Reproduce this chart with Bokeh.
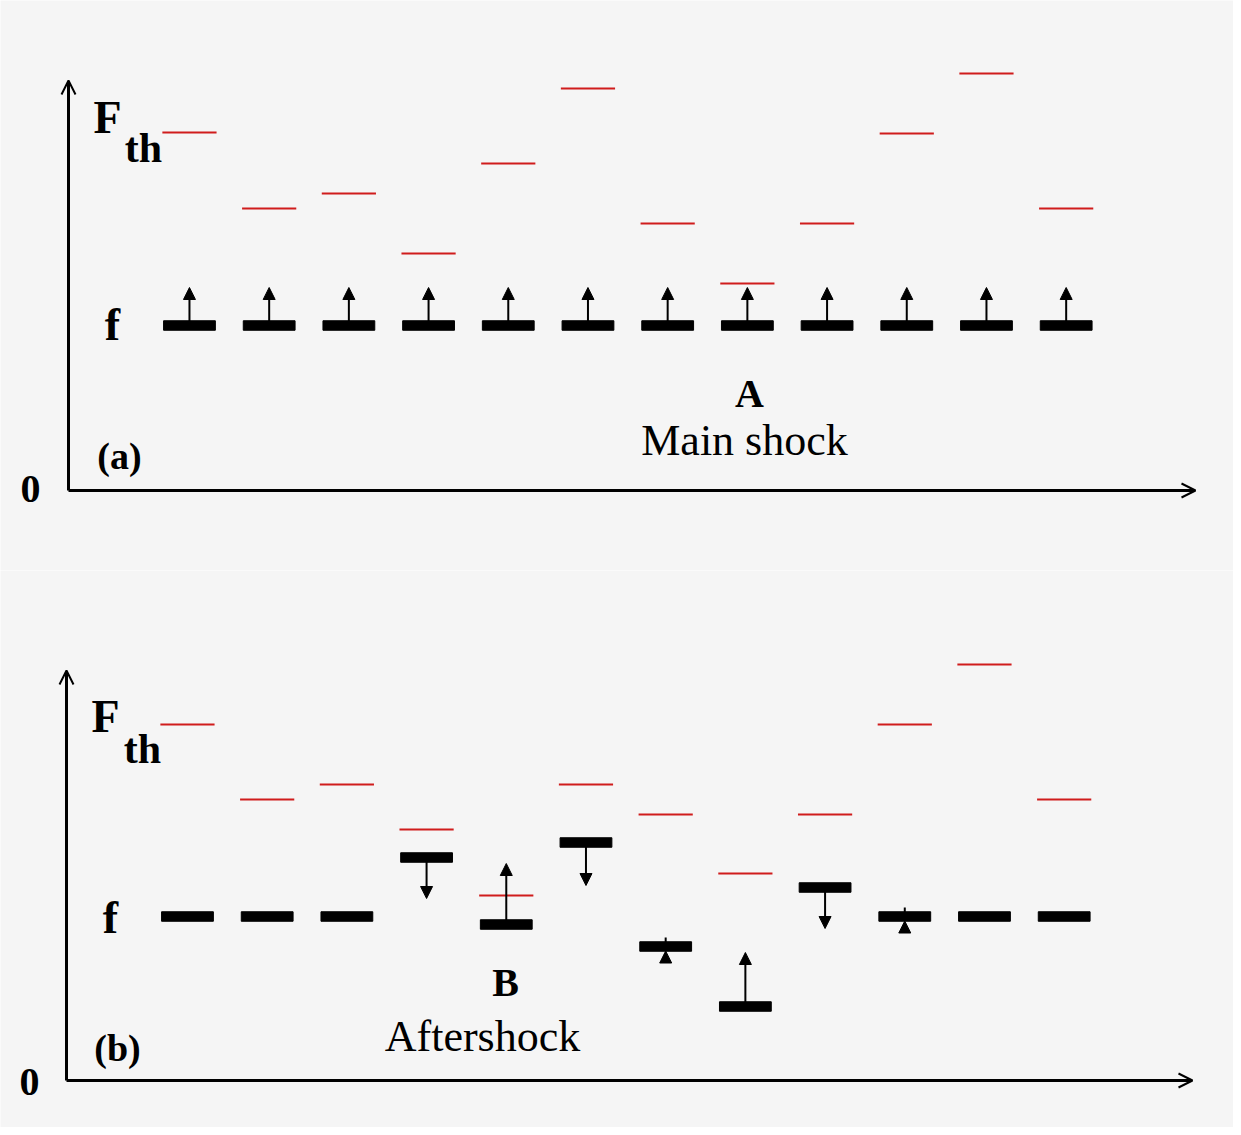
from bokeh.plotting import figure
from bokeh.layouts import column
from bokeh.models import Range1d, ColumnDataSource, Arrow, NormalHead, OpenHead
from bokeh.embed import file_html
from bokeh.resources import INLINE
from bokeh.core.properties import value

# ---------------- data ----------------
blocks = [1, 2, 3, 4, 5, 6, 7, 8, 9, 10, 11, 12]

# panel (a): main shock
fth_a = [35.8, 28.2, 29.7, 23.7, 32.7, 40.2, 26.7, 20.7, 26.7, 35.7, 41.7, 28.2]
f_a = [16.5, 16.5, 16.5, 16.5, 16.5, 16.5, 16.5, 16.5, 16.5, 16.5, 16.5, 16.5]
arrow_from_a = [16.95, 16.95, 16.95, 16.95, 16.95, 16.95, 16.95, 16.95, 16.95, 16.95, 16.95, 16.95]
arrow_to_a = [20.3, 20.3, 20.3, 20.3, 20.3, 20.3, 20.3, 20.3, 20.3, 20.3, 20.3, 20.3]

# panel (b): aftershock
fth_b = [35.6, 28.1, 29.6, 25.1, 18.5, 29.6, 26.6, 20.7, 26.6, 35.6, 41.6, 28.1]
f_b = [16.4, 16.4, 16.4, 22.3, 15.6, 23.8, 13.4, 7.4, 19.3, 16.4, 16.4, 16.4]
arrow_from_b = [None, None, None, 21.85, 16.05, 23.35, 12.2, 7.85, 18.85, 15.0, None, None]
arrow_to_b = [None, None, None, 18.2, 21.7, 19.5, 12.95, 12.8, 15.2, 15.95, None, None]
tick_top_b = [None, None, None, None, None, None, 14.3, None, None, 17.3, None, None]

# ---------------- layout helpers ----------------
W = 1233
SX = 79.7   # px per block
SY = 10.0   # px per y unit
BG = "#f5f5f5"
RED = "#d01c1c"
SERIF = value("Liberation Serif")
LEFT_PX = 0


def make_panel(height, x0, base_py, top_py, fth, f, afrom, ato, ticks, labels, xaxis_end_px, axis_px):
    x1 = x0 + W / SX
    y1 = (base_py - top_py) / SY
    y0 = y1 - height / SY
    p = figure(width=W, height=height, output_backend="svg", toolbar_location=None,
               x_range=Range1d(x0, x1), y_range=Range1d(y0, y1),
               min_border=0, min_border_left=0, min_border_right=0,
               min_border_top=0, min_border_bottom=0)
    p.axis.visible = False
    p.grid.visible = False
    p.outline_line_color = None
    p.background_fill_color = BG
    p.border_fill_color = BG

    def tx(px):
        return x0 + (px - LEFT_PX) / SX

    def ty(py):
        return (base_py - py) / SY

    ax = tx(axis_px)
    # axes with arrow heads
    p.add_layout(Arrow(end=OpenHead(size=14, line_width=2, line_color="black"),
                       x_start=ax, y_start=0, x_end=ax, y_end=41,
                       line_width=3, line_color="black"))
    p.add_layout(Arrow(end=OpenHead(size=14, line_width=2, line_color="black"),
                       x_start=ax, y_start=0, x_end=tx(xaxis_end_px), y_end=0,
                       line_width=3, line_color="black"))

    # thresholds (red)
    p.segment(x0=[b - 0.34 for b in blocks], x1=[b + 0.34 for b in blocks],
              y0=fth, y1=fth, line_color=RED, line_width=2)

    # stress bars (black)
    p.rect(x=blocks, y=f, width=0.65, height=0.95, fill_color="black", line_color="black")

    # arrows
    xs, ys0, ys1 = [], [], []
    for b, a0, a1 in zip(blocks, afrom, ato):
        if a0 is not None and a1 is not None:
            xs.append(b); ys0.append(a0); ys1.append(a1)
    src = ColumnDataSource(dict(x=xs, y0=ys0, y1=ys1))
    p.add_layout(Arrow(end=NormalHead(size=12, fill_color="black", line_color="black", line_width=1),
                       source=src, x_start="x", y_start="y0", x_end="x", y_end="y1",
                       line_width=2, line_color="black"))
    if ticks is not None:
        tb, t0, t1 = [], [], []
        for b, fv, t in zip(blocks, f, ticks):
            if t is not None:
                tb.append(b); t0.append(fv + 0.45); t1.append(t)
        p.segment(x0=tb, x1=tb, y0=t0, y1=t1, line_color="black", line_width=2)

    for txt, px, py, size, style in labels:
        p.text(x=[tx(px)], y=[ty(py)], text=[txt], text_font=SERIF,
               text_font_size=f"{size}px", text_font_style=style,
               text_align="center", text_baseline="middle", text_color="black")
    return p


labels_a = [
    ("F", 107, 117, 46, "bold"),
    ("th", 143, 147, 42, "bold"),
    ("f", 112, 324, 46, "bold"),
    ("0", 30, 488, 40, "bold"),
    ("(a)", 119, 455, 38, "bold"),
    ("A", 749, 393, 40, "bold"),
    ("Main shock", 744, 440, 44, "normal"),
]
labels_b = [
    ("F", 105, 716, 46, "bold"),
    ("th", 142, 748, 42, "bold"),
    ("f", 110, 917, 46, "bold"),
    ("0", 29, 1081, 40, "bold"),
    ("(b)", 117, 1047, 38, "bold"),
    ("B", 505, 982, 40, "bold"),
    ("Aftershock", 482, 1036, 44, "normal"),
]

pa = make_panel(570, -1.371, 490, 0, fth_a, f_a, arrow_from_a, arrow_to_a, None,
                labels_a, 1195, 68)
pb = make_panel(557, -1.346, 1080, 570, fth_b, f_b, arrow_from_b, arrow_to_b, tick_top_b,
                labels_b, 1192, 66)

layout = column(pa, pb, spacing=0)
open("out.html", "w").write(file_html(layout, INLINE))
